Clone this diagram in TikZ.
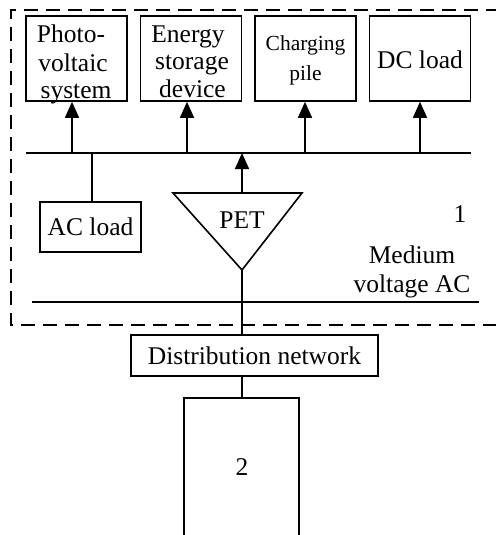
\documentclass[tikz,border=0pt]{standalone}
\usepackage{fontspec}
\setmainfont{Liberation Serif}
\usetikzlibrary{arrows.meta}
\begin{document}
\begin{tikzpicture}[x=1pt,y=-1pt,
  line width=1.6pt,
  txt/.style={font=\fontsize{25.5}{28}\selectfont, inner sep=0pt, anchor=base},
  small/.style={txt, font=\fontsize{21.5}{28}\selectfont},
  topbox/.style={draw, rectangle, minimum width=101pt, minimum height=85pt, inner sep=0pt},
  plainbox/.style={draw, rectangle, inner sep=0pt, align=center, font=\fontsize{25.5}{28}\selectfont},
  arr/.style={-{Triangle[length=16pt,width=14pt]}},
  dashbox/.style={dashed, dash pattern=on 14pt off 8pt}
]
\useasboundingbox (0,0) rectangle (495,535);
% dashed region (open to the right)
\draw[dashbox] (500,10) -- (11,10) -- (11,325) -- (500,325);
% top boxes
\node[topbox] (pv) at (76.5,58.5) {};
\node[txt] (pv1) at (71,42) {Photo-};
\node[txt] (pv2) at (73,71) {voltaic};
\node[txt] (pv3) at (76,98) {system};
\node[topbox] (es) at (191,58.5) {};
\node[txt] (es1) at (188,42) {Energy};
\node[txt] (es2) at (192,70) {storage};
\node[txt] (es3) at (192.5,97) {device};
\node[topbox] (cp) at (305.5,58.5) {};
\node[small] (cp1) at (305.5,51) {Charging};
\node[small] (cp2) at (305.5,80) {pile};
\node[topbox] (dc) at (420,58.5) {};
\node[txt] (dc1) at (420,68) {DC load};
% DC bus
\coordinate (busL) at (26,153);
\coordinate (busR) at (471,153);
\draw (busL) -- (busR);
\coordinate (a1) at (72,153);
\coordinate (a2) at (187,153);
\coordinate (a3) at (305,153);
\coordinate (a4) at (420,153);
\draw[arr] (a1) -- (a1 |- pv.south);
\draw[arr] (a2) -- (a2 |- es.south);
\draw[arr] (a3) -- (a3 |- cp.south);
\draw[arr] (a4) -- (a4 |- dc.south);
% AC load
\node[plainbox, minimum width=101pt, minimum height=50pt] (acl) at (90.5,227) {AC load};
\coordinate (b1) at (92,153);
\draw (b1) -- (b1 |- acl.north);
% PET triangle
\coordinate (tl) at (173,193);
\coordinate (tr) at (302,193);
\coordinate (tb) at (242,270);
\coordinate (tt) at (242,193);
\coordinate (pb) at (242,153);
\draw[line join=miter] (tl) -- (tr) -- (tb) -- cycle;
\node[txt] (pet) at (242,228) {PET};
\draw[arr] (tt) -- (pb);
% labels
\node[txt] (one) at (460,222) {1};
\node[txt] (mv1) at (412,263) {Medium};
\node[txt] (mv2) at (412,292) {voltage AC};
% medium voltage AC line
\coordinate (mvL) at (32,302);
\coordinate (mvR) at (479,302);
\draw (mvL) -- (mvR);
% distribution network
\node[plainbox, minimum width=247pt, minimum height=41pt] (dn) at (254.5,355.5) {Distribution network};
\draw (tb) -- (tb |- dn.north);
% block 2 (open at bottom)
\coordinate (r1) at (184,540);
\coordinate (r2) at (184,398);
\coordinate (r3) at (299,398);
\coordinate (r4) at (299,540);
\draw (r1) -- (r2) -- (r3) -- (r4);
\coordinate (rt) at (242,398);
\draw (tb |- dn.south) -- (rt);
\node[txt] (two) at (242,475) {2};
\end{tikzpicture}
\end{document}
